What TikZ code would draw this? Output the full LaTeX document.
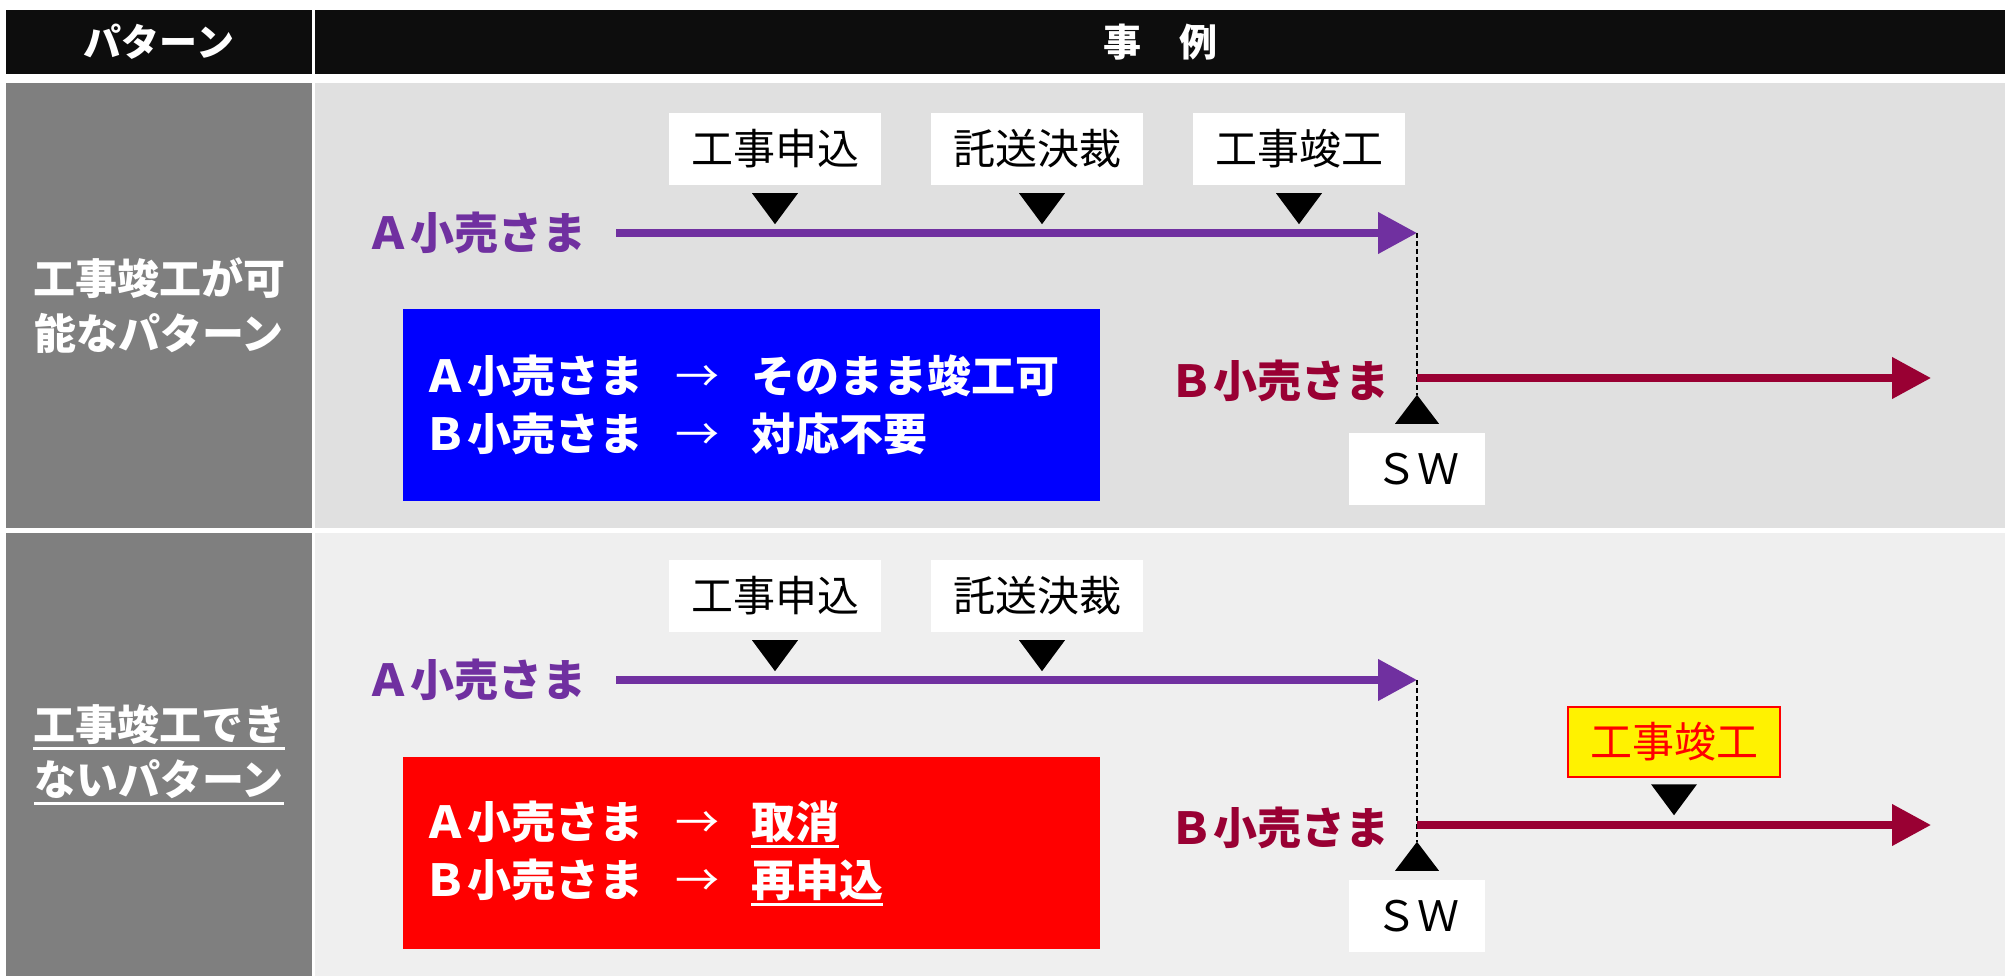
\documentclass[tikz,border=0pt]{standalone}
\usepackage{fontspec}
\setmainfont{Noto Sans CJK JP}
\usepackage{xcolor}
\usepackage{tikz}
\usetikzlibrary{arrows.meta,positioning}
\definecolor{hdr}{HTML}{0D0D0D}
\definecolor{pgray}{HTML}{7F7F7F}
\definecolor{rowa}{HTML}{E0E0E0}
\definecolor{rowb}{HTML}{EFEFEF}
\definecolor{apurple}{HTML}{7030A0}
\definecolor{bred}{HTML}{990033}
\newcommand{\ulx}[1]{\leavevmode\setbox0=\hbox{#1}\rlap{\rule[-9.5pt]{\wd0}{2.5pt}}\box0}
\newcommand{\toarr}{\makebox[108pt]{\mdseries →}}

\begin{document}
\begin{tikzpicture}[x=1pt,y=-1pt,
    cellbox/.style={inner sep=0pt,text=white,align=center,font=\fontsize{42}{55}\selectfont\bfseries},
    hdrbox/.style={cellbox,fill=hdr,minimum height=64pt,font=\fontsize{38}{44}\selectfont\bfseries},
    tagbox/.style={fill=white,inner sep=0pt,minimum width=212pt,minimum height=72pt,font=\fontsize{42}{50}\selectfont},
    swbox/.style={tagbox,minimum width=136pt},
    who/.style={font=\fontsize{44}{50}\selectfont\bfseries},
    resbox/.style={inner xsep=20pt,inner ysep=0pt,text width=657pt,minimum height=192pt,text=white,align=left,font=\fontsize{44}{58}\selectfont\bfseries},
    aline/.style={line width=7.5pt,apurple,-{Triangle[length=39pt,width=40pt]}},
    bline/.style={line width=7.5pt,bred,-{Triangle[length=39pt,width=40pt]}},
    swline/.style={dash pattern=on 5pt off 3pt,line width=1.2pt}]
  \fill[white] (0,0) rectangle (2005,976);
  \useasboundingbox (0,0) rectangle (2005,976);

  \node[hdrbox,minimum width=306pt] (hl) at (159,42) {パターン};
  \node[hdrbox,minimum width=1690pt] (hr) at (1160,42) {事　例};
  \node[cellbox,fill=pgray,minimum width=306pt,minimum height=445pt] (p1) at (159,305.5) {工事竣工が可\\能なパターン};
  \node[cellbox,fill=pgray,minimum width=306pt,minimum height=443pt] (p2) at (159,754.5) {\ulx{工事竣工でき}\\\ulx{ないパターン}};
  \node[fill=rowa,inner sep=0pt,minimum width=1690pt,minimum height=445pt] (r1) at (1160,305.5) {};
  \node[fill=rowb,inner sep=0pt,minimum width=1690pt,minimum height=443pt] (r2) at (1160,754.5) {};

  \node[tagbox] (k11) at (775,149) {工事申込};
  \node[tagbox] (k12) at (1037,149) {託送決裁};
  \node[tagbox] (k13) at (1299,149) {工事竣工};
  \fill ([xshift=-23pt,yshift=-8pt]k11.south) -- ++(46,0) -- ++(-23,31) -- cycle;
  \fill ([xshift=-18pt,yshift=-8pt]k12.south) -- ++(46,0) -- ++(-23,31) -- cycle;
  \fill ([xshift=-23pt,yshift=-8pt]k13.south) -- ++(46,0) -- ++(-23,31) -- cycle;
  \node[who,text=apurple] (a1) at (476,233) {Ａ小売さま};
  \coordinate (as1) at (616,233);
  \coordinate (ae1) at (1417,233);
  \draw[aline] (as1) -- (ae1);
  \node[swbox] (sw1) at (1417,469) {ＳＷ};
  \fill ([xshift=-22pt,yshift=9pt]sw1.north) -- ++(44,0) -- ++(-22,-29) -- cycle;
  \draw[swline] (ae1) -- ([yshift=38pt]sw1.north);
  \node[who,text=bred] (b1) at (1279,381) {Ｂ小売さま};
  \coordinate (bs1) at (1417,378);
  \coordinate (be1) at (1931,378);
  \draw[bline] (bs1) -- (be1);
  \node[resbox,fill=blue] (ok1) at (751.5,405) {Ａ小売さま\toarr そのまま竣工可\\Ｂ小売さま\toarr 対応不要};

  \node[tagbox] (k21) at (775,596) {工事申込};
  \node[tagbox] (k22) at (1037,596) {託送決裁};
  \fill ([xshift=-23pt,yshift=-8pt]k21.south) -- ++(46,0) -- ++(-23,31) -- cycle;
  \fill ([xshift=-18pt,yshift=-8pt]k22.south) -- ++(46,0) -- ++(-23,31) -- cycle;
  \node[who,text=apurple] (a2) at (476,680) {Ａ小売さま};
  \coordinate (as2) at (616,680);
  \coordinate (ae2) at (1417,680);
  \draw[aline] (as2) -- (ae2);
  \node[swbox] (sw2) at (1417,916) {ＳＷ};
  \fill ([xshift=-22pt,yshift=9pt]sw2.north) -- ++(44,0) -- ++(-22,-29) -- cycle;
  \draw[swline] (ae2) -- ([yshift=38pt]sw2.north);
  \node[who,text=bred] (b2) at (1279,828) {Ｂ小売さま};
  \coordinate (bs2) at (1417,825);
  \coordinate (be2) at (1931,825);
  \draw[bline] (bs2) -- (be2);
  \node[tagbox,fill=yellow,draw=red,line width=2.5pt,text=red,minimum width=212pt,minimum height=70pt] (k23) at (1674,742) {工事竣工};
  \fill ([xshift=-23pt,yshift=-6pt]k23.south) -- ++(46,0) -- ++(-23,31) -- cycle;
  \node[resbox,fill=red] (ng2) at (751.5,853) {Ａ小売さま\toarr\ulx{取消}\\Ｂ小売さま\toarr\ulx{再申込}};
\end{tikzpicture}
\end{document}
